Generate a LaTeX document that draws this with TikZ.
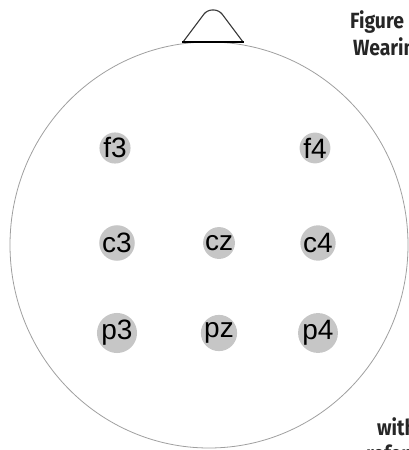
\documentclass[tikz,border=0pt]{standalone}
\usepackage{fontspec}
\usepackage{tikz}
\newfontfamily\elfont{Liberation Sans}
\newfontfamily\capfont{Fira Sans}

\begin{document}
\begin{tikzpicture}[x=1pt, y=-1pt,
	electrode/.style={circle, fill=gray!45, minimum size=30pt, inner sep=0pt,
		font=\elfont\fontsize{28}{28}\selectfont},
	margintext/.style={anchor=base west, inner sep=0pt, xscale=0.88, transform shape,
		font=\capfont\bfseries\fontsize{22}{22}\selectfont, text=black!85}]
	\useasboundingbox (0,0) rectangle (409,450);
	\clip (0,0) rectangle (409,450);
	\begin{scope}
		% head outline and nose
		\draw[gray!75, line width=0.8pt] (209,245) ellipse (199 and 203);
		\draw[gray!45!black, line width=1.1pt, rounded corners=5pt]
			(183,42) -- (207,10) -- (219,10) -- (243,42);
		\draw[black, line width=1.6pt] (182,42) -- (244,42);
	\end{scope}
	\begin{scope}
		% electrodes
		\node[electrode] (f3) at (115,148) {f3};
		\node[electrode] (f4) at (315,148) {f4};
		\node[electrode] (c3) at (117,243) {c3};
		\node[electrode] (cz) at (219,243) {cz};
		\node[electrode] (c4) at (318,243) {c4};
		\node[electrode] (p3) at (117,333) {p3};
		\node[electrode] (pz) at (219,333) {pz};
		\node[electrode] (p4) at (318,333) {p4};
	\end{scope}
	% cut-off caption text at the right edge
	\node[margintext] (figtxt) at (350,28) {Figure};
	\node[margintext] (weartxt) at (353,55) {Wearin};
	\node[margintext] (withtxt) at (377,435) {with};
	\node[margintext] (reftxt) at (366,461) {refer};
\end{tikzpicture}
\end{document}
